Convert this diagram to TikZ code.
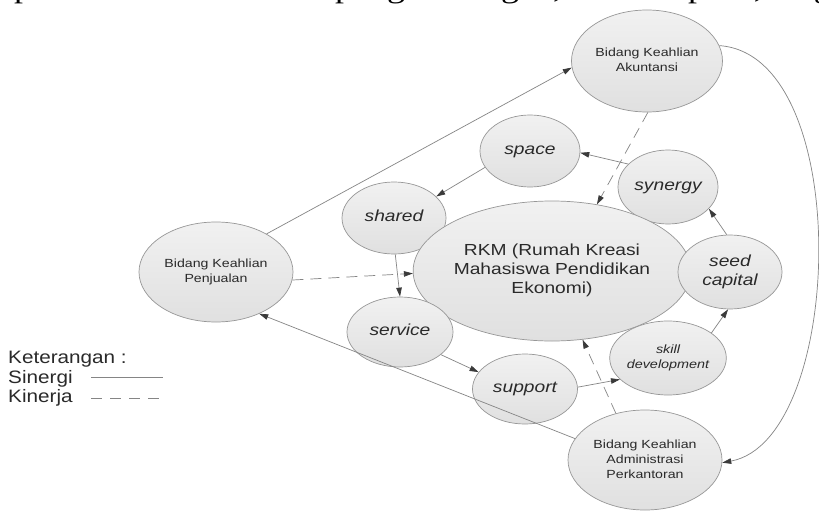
\documentclass[tikz,border=0pt]{standalone}
\usepackage{graphicx}
\usepackage{fontspec}
\setmainfont{Liberation Sans}
\newfontfamily\serifpage{Liberation Serif}
\usetikzlibrary{shapes.geometric,arrows.meta}
\definecolor{edgec}{HTML}{858585}
\definecolor{tipc}{HTML}{3A3A3A}
\definecolor{bubtop}{HTML}{F1F1F1}
\definecolor{bubbot}{HTML}{E0E0E0}
\definecolor{bubline}{HTML}{979797}
\definecolor{txtc}{HTML}{2A2A2A}
\newcommand\sxt[2]{\scalebox{1.2}[1]{#1\begin{tabular}{@{}c@{}}#2\end{tabular}}}
\newcommand\fbid{\fontsize{11.8}{15}\selectfont}
\newcommand\fit{\fontsize{16}{19.5}\selectfont\itshape}
\begin{document}
\begin{tikzpicture}[x=1pt,y=-1pt,
  bub/.style={ellipse, draw=bubline, line width=0.7pt, top color=bubtop, bottom color=bubbot, inner sep=0pt, text=txtc},
  syn/.style={draw=edgec, line width=0.7pt, -{Triangle[length=9pt,width=5.5pt,color=tipc]}},
  kin/.style={syn, dash pattern=on 11pt off 7pt},
  legline/.style={draw=edgec, line width=0.7pt},
  legtext/.style={anchor=base west, inner sep=0pt, text=txtc, font=\fontsize{18}{20}\selectfont}]
\useasboundingbox (0,0) rectangle (819,511);
\fill[white] (0,0) rectangle (819,511);
% clipped line of running text from the page above
\begin{scope}
\clip (0,0) rectangle (819,511);
\node[anchor=base west, inner sep=0pt, font=\serifpage\fontsize{30}{30}\selectfont] (para) at (-20,-2)
  {\scalebox{1.2}[1]{kepada fasilitator dalam pengembangan, shared space, sing}};
\end{scope}
% bubbles
\node[bub, minimum width=151pt, minimum height=102pt] (aku) at (647,61) {\sxt{\fbid}{Bidang Keahlian\\Akuntansi}};
\node[bub, minimum width=100pt, minimum height=72pt] (space) at (530,151) {\sxt{\fit}{space}};
\node[bub, minimum width=100pt, minimum height=74pt] (syn) at (668,187) {\sxt{\fit}{synergy}};
\node[bub, minimum width=104pt, minimum height=72pt] (shared) at (394,218) {\sxt{\fit}{shared}};
\node[bub, minimum width=205pt, minimum height=140pt] (rkm) at (552,271) {\sxt{\fontsize{16}{19}\selectfont}{RKM (Rumah Kreasi\\Mahasiswa Pendidikan\\Ekonomi)}};
\node[bub, minimum width=104pt, minimum height=74pt] (seed) at (730,272) {\sxt{\fit}{seed\\capital}};
\node[bub, minimum width=154pt, minimum height=100pt] (pen) at (216,272) {\sxt{\fbid}{Bidang Keahlian\\Penjualan}};
\node[bub, minimum width=106pt, minimum height=70pt] (service) at (400,332) {\sxt{\fit}{service}};
\node[bub, minimum width=105pt, minimum height=70pt] (support) at (525,389) {\sxt{\fit}{support}};
\node[bub, minimum width=104pt, minimum height=74pt] (skill) at (668,358) {\sxt{\fontsize{12}{15}\selectfont\itshape}{skill\\development}};
\node[bub, minimum width=154pt, minimum height=100pt] (adm) at (645,460) {\sxt{\fbid}{Bidang Keahlian\\Administrasi\\Perkantoran}};
% sinergi connectors
\draw[syn] (pen.37) -- (aku.185);
\draw[syn] (aku.12) .. controls (855,55) and (845,440) .. (adm.-2);
\draw[syn] (adm.163) -- (pen.-44);
\draw[syn] (space.200) -- (shared.27);
\draw[syn] (shared.-88) -- (service.90);
\draw[syn] (service.-29) -- (support.160);
\draw[syn] (support.2) -- (skill.204);
\draw[syn] (skill.30) -- (seed.-93);
\draw[syn] (seed.95) -- (syn.-28);
\draw[syn] (syn.150) -- (space.-2);
% kinerja connectors
\draw[kin] (pen.-6) -- (rkm.181);
\draw[kin] (aku.-89) -- (rkm.56);
\draw[kin] (adm.122) -- (rkm.-66);
% legend
\node[legtext] (ket) at (8,363) {\scalebox{1.15}[1]{Keterangan :}};
\node[legtext] (sin) at (8,383) {\scalebox{1.15}[1]{Sinergi}};
\node[legtext] (kinl) at (8,402) {\scalebox{1.15}[1]{Kinerja}};
\coordinate (s1) at (91,377);
\coordinate (s2) at (163,377);
\coordinate (k1) at (91,398);
\coordinate (k2) at (163,398);
\draw[legline] (s1) -- (s2);
\draw[legline, dash pattern=on 11pt off 8pt] (k1) -- (k2);
\end{tikzpicture}
\end{document}
